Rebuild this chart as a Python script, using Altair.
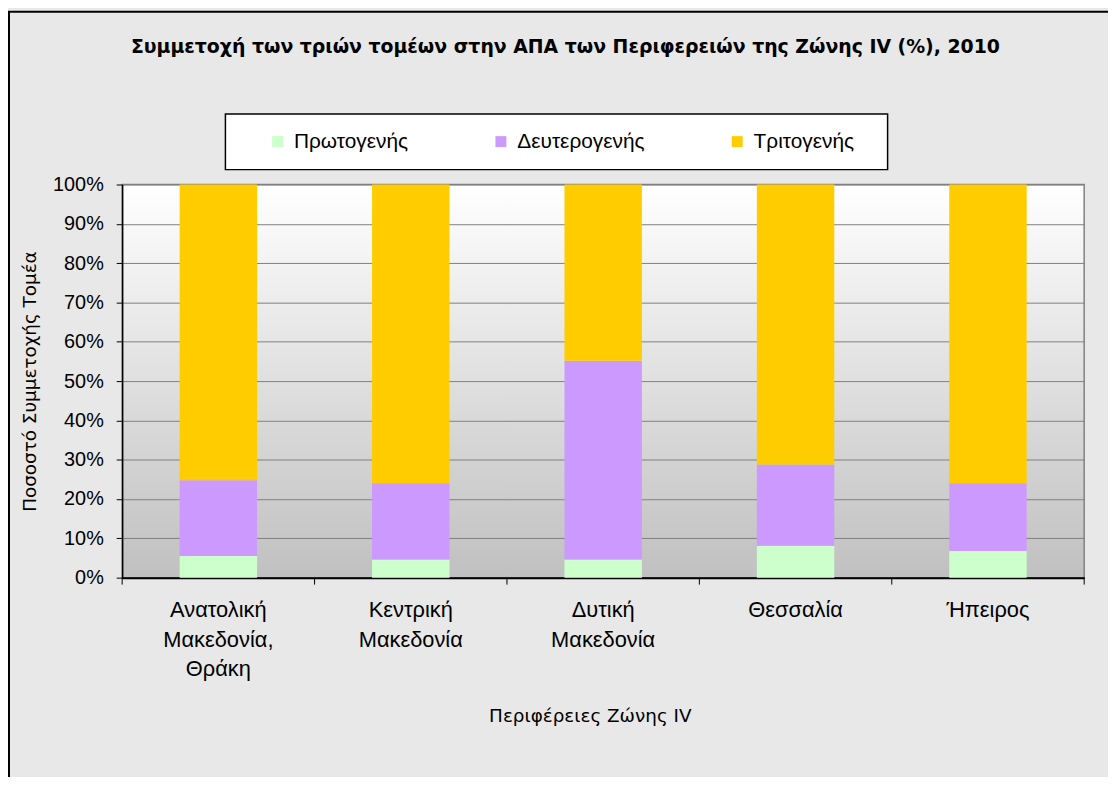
import altair as alt
import pandas as pd

# ---- data ----
regions = ["Ανατολική|Μακεδονία,|Θράκη", "Κεντρική|Μακεδονία", "Δυτική|Μακεδονία", "Θεσσαλία", "Ήπειρος"]
sectors = ["Πρωτογενής", "Δευτερογενής", "Τριτογενής"]
primary = [5.5, 4.6, 4.6, 8.1, 6.8]
secondary = [19.3, 19.4, 50.6, 20.7, 17.2]
tertiary = [75.2, 76.0, 44.8, 71.2, 76.0]
colors = ["#ccffcc", "#cc99ff", "#ffcc00"]
y_ticks = [i / 10 for i in range(11)]

rows = []
for i, r in enumerate(regions):
    for k, (s, vals) in enumerate(zip(sectors, [primary, secondary, tertiary])):
        rows.append({"region": r, "sector": s, "value": vals[i], "order": k})
df = pd.DataFrame(rows)

W, H = 969, 396
PL, PT = 115, 175
CW, CH = 1108, 769

x_enc = alt.X(
    "region:N",
    sort=regions,
    scale=alt.Scale(paddingInner=0, paddingOuter=0),
    axis=alt.Axis(
        title="Περιφέρειες Ζώνης IV",
        labelExpr="split(datum.value, '|')",
        labelAngle=0,
        labelFont="Liberation Sans",
        labelFontSize=22,
        labelColor="#000000",
        labelLineHeight=30,
        labelPadding=22,
        ticks=False,
        domainColor="#000000",
        domainWidth=2,
        titleFont="DejaVu Sans",
        titleFontSize=18.5,
        titleFontWeight="normal",
        titleColor="#000000",
        titleX=471,
        titleY=139,
        titleBaseline="middle",
        grid=False,
    ),
)

bars = alt.Chart(df).mark_bar(width=78).encode(
    x=x_enc,
    y=alt.Y(
        "value:Q",
        stack="normalize",
        scale=alt.Scale(domain=[0, 1]),
        axis=alt.Axis(
            title="Ποσοστό Συμμετοχής Τομέα",
            values=y_ticks,
            format=".0%",
            labelFont="Liberation Sans",
            labelFontSize=20,
            labelColor="#000000",
            labelPadding=13,
            tickSize=6,
            tickColor="#000000",
            domainColor="#000000",
            domainWidth=1.5,
            grid=True,
            gridColor="#808080",
            gridWidth=1,
            titleFont="DejaVu Sans",
            titleFontSize=18.5,
            titleFontWeight="normal",
            titleColor="#000000",
            titleX=-93,
            titleY=H / 2,
            titleBaseline="middle",
        ),
    ),
    color=alt.Color(
        "sector:N",
        sort=sectors,
        scale=alt.Scale(domain=sectors, range=colors),
        legend=alt.Legend(
            title=None,
            orient="none",
            legendX=146,
            legendY=-54,
            direction="horizontal",
            symbolType="square",
            symbolSize=121,
            symbolStrokeWidth=0,
            labelFont="Liberation Sans",
            labelFontSize=21,
            labelColor="#000000",
            labelOffset=6,
            columnPadding=82,
        ),
    ),
    order=alt.Order("order:Q", sort="ascending"),
)

one = pd.DataFrame({"a": [0]})

legend_box = alt.Chart(one).mark_rect(fill="#ffffff", stroke="#000000", strokeWidth=1.5).encode(
    x=alt.value(104), x2=alt.value(771), y=alt.value(-71), y2=alt.value(-15)
)

frame = alt.Chart(one).mark_rect(filled=False, stroke="#000000", strokeWidth=2).encode(
    x=alt.value(1 - PL), x2=alt.value(W + 300), y=alt.value(1 - PT), y2=alt.value(H + 400)
)

tick_df = pd.DataFrame({"region": regions})
xticks = alt.Chart(tick_df).mark_rule(color="#000000", strokeWidth=1).encode(
    x=alt.X("region:N", sort=regions, bandPosition=0),
    y=alt.value(H),
    y2=alt.value(H + 7),
)
last_tick = alt.Chart(one).mark_rule(color="#000000", strokeWidth=1).encode(
    x=alt.value(W), y=alt.value(H), y2=alt.value(H + 7)
)

chart = alt.layer(frame, legend_box, bars, xticks, last_tick).properties(
    width=W,
    height=H,
    autosize=alt.AutoSizeParams(type="none"),
    padding={"left": PL, "top": PT, "right": CW - PL - W, "bottom": CH - PT - H},
    background="#e8e8e8",
    title=alt.TitleParams(
        "Συμμετοχή των τριών τομέων στην ΑΠΑ των Περιφερειών της Ζώνης IV (%), 2010",
        font="DejaVu Sans",
        fontSize=19,
        fontWeight="bold",
        color="#000000",
        anchor="middle",
        dx=-38,
        offset=-47,
    ),
).configure_view(
    fill={"expr": "{gradient: 'linear', x1: 0, y1: 0, x2: 0, y2: 1, stops: [{offset: 0, color: '#ffffff'}, {offset: 1, color: '#c0c0c0'}]}"},
    stroke="#808080",
    strokeWidth=1.5,
)

chart.save("out.html", embed_options={"renderer": "svg", "actions": False})
